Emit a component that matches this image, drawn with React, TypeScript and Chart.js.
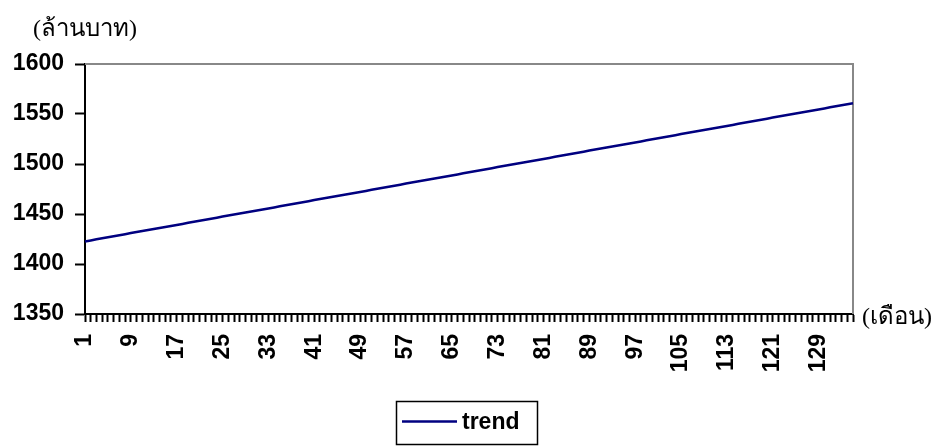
import React, { useEffect, useRef } from 'react';
import { Chart, registerables } from 'chart.js';

Chart.register(...registerables);

// Trend values (million baht) for months 1..135
const TREND: number[] = [
  1422.6, 1423.6, 1424.7, 1425.7, 1426.7, 1427.8, 1428.8, 1429.8, 1430.9, 1431.9,
  1432.9, 1433.9, 1435.0, 1436.0, 1437.0, 1438.1, 1439.1, 1440.1, 1441.2, 1442.2,
  1443.2, 1444.3, 1445.3, 1446.3, 1447.4, 1448.4, 1449.4, 1450.4, 1451.5, 1452.5,
  1453.5, 1454.6, 1455.6, 1456.6, 1457.7, 1458.7, 1459.7, 1460.8, 1461.8, 1462.8,
  1463.9, 1464.9, 1465.9, 1466.9, 1468.0, 1469.0, 1470.0, 1471.1, 1472.1, 1473.1,
  1474.2, 1475.2, 1476.2, 1477.3, 1478.3, 1479.3, 1480.4, 1481.4, 1482.4, 1483.4,
  1484.5, 1485.5, 1486.5, 1487.6, 1488.6, 1489.6, 1490.7, 1491.7, 1492.7, 1493.8,
  1494.8, 1495.8, 1496.9, 1497.9, 1498.9, 1500.0, 1501.0, 1502.0, 1503.0, 1504.1,
  1505.1, 1506.1, 1507.2, 1508.2, 1509.2, 1510.3, 1511.3, 1512.3, 1513.4, 1514.4,
  1515.4, 1516.5, 1517.5, 1518.5, 1519.5, 1520.6, 1521.6, 1522.6, 1523.7, 1524.7,
  1525.7, 1526.8, 1527.8, 1528.8, 1529.9, 1530.9, 1531.9, 1533.0, 1534.0, 1535.0,
  1536.0, 1537.1, 1538.1, 1539.1, 1540.2, 1541.2, 1542.2, 1543.3, 1544.3, 1545.3,
  1546.4, 1547.4, 1548.4, 1549.5, 1550.5, 1551.5, 1552.5, 1553.6, 1554.6, 1555.6,
  1556.7, 1557.7, 1558.7, 1559.8, 1560.8,
];

// Month categories 1..135
const MONTHS: string[] = TREND.map((_, i) => String(i + 1));

const Y_MIN = 1350;
const Y_MAX = 1600;
const Y_STEP = 50;
const LABEL_EVERY = 8;
const SERIES_NAME = 'trend';
const Y_UNIT = '(ล้านบาท)';
const X_UNIT = '(เดือน)';

const FONT = "'Liberation Sans', Arial, sans-serif";
const THAI_FONT = "serif";
const LINE_COLOR = '#000080';

const framePlugin = {
  id: 'frame',
  beforeDatasetsDraw(chart: any) {
    const { ctx, chartArea } = chart;
    ctx.save();
    ctx.strokeStyle = '#888888';
    ctx.lineWidth = 2;
    ctx.beginPath();
    ctx.moveTo(chartArea.left, chartArea.top);
    ctx.lineTo(chartArea.right, chartArea.top);
    ctx.lineTo(chartArea.right, chartArea.bottom);
    ctx.stroke();
    ctx.restore();
  },
};

const legendBoxPlugin = {
  id: 'legendBox',
  afterDraw(chart: any) {
    const { ctx } = chart;
    const ds = chart.data.datasets[0];
    ctx.save();
    ctx.strokeStyle = '#000';
    ctx.lineWidth = 1.5;
    ctx.strokeRect(396.5, 401.5, 141, 43);
    ctx.strokeStyle = ds.borderColor;
    ctx.lineWidth = 2.5;
    ctx.beginPath();
    ctx.moveTo(402, 421.5);
    ctx.lineTo(457, 421.5);
    ctx.stroke();
    ctx.fillStyle = '#000';
    ctx.font = `bold 23px ${FONT}`;
    ctx.textBaseline = 'middle';
    ctx.textAlign = 'left';
    ctx.fillText(ds.label, 462, 423);
    ctx.restore();
  },
};

export default function App() {
  const canvasRef = useRef<HTMLCanvasElement | null>(null);

  useEffect(() => {
    const canvas = canvasRef.current;
    if (!canvas) return;
    const chart = new Chart(canvas, {
      type: 'line',
      data: {
        labels: MONTHS,
        datasets: [
          {
            label: SERIES_NAME,
            data: TREND,
            borderColor: LINE_COLOR,
            backgroundColor: LINE_COLOR,
            borderWidth: 2.5,
            pointRadius: 0,
            tension: 0,
            fill: false,
          },
        ],
      },
      options: {
        responsive: false,
        animation: false,
        devicePixelRatio: 1,
        layout: { padding: { top: 64, right: 92, bottom: 74, left: 0 } },
        plugins: {
          legend: { display: false },
          tooltip: { enabled: false },
        },
        scales: {
          x: {
            type: 'category',
            offset: false,
            ticks: {
              autoSkip: false,
              maxRotation: 90,
              minRotation: 90,
              padding: 12,
              color: '#000',
              font: { family: FONT, size: 23, weight: 'bold' },
              callback: function (this: any, v: any, i: number) {
                return i % LABEL_EVERY === 0 ? this.getLabelForValue(v) : '';
              },
            },
            grid: {
              drawOnChartArea: false,
              drawTicks: true,
              tickLength: 8,
              tickColor: '#000',
              tickWidth: 2,
              offset: false,
            },
            border: { display: true, color: '#000', width: 2 },
            afterFit: (s: any) => {
              s.height = 60;
            },
          },
          y: {
            min: Y_MIN,
            max: Y_MAX,
            ticks: {
              stepSize: Y_STEP,
              padding: 11,
              color: '#000',
              font: { family: FONT, size: 23, weight: 'bold' },
              callback: (v: any) => String(v),
            },
            grid: {
              drawOnChartArea: false,
              drawTicks: true,
              tickLength: 10,
              tickColor: '#000',
              tickWidth: 2,
            },
            border: { display: true, color: '#000', width: 2 },
            afterFit: (s: any) => {
              s.width = 85;
            },
          },
        },
      } as any,
      plugins: [framePlugin, legendBoxPlugin],
    });
    return () => chart.destroy();
  }, []);

  return (
    <div style={{ position: 'absolute', left: 0, top: 0, width: 945, height: 448, background: '#fff' }}>
      <canvas ref={canvasRef} width={945} height={448} style={{ display: 'block' }} />
      <span
        style={{
          position: 'absolute',
          left: 33,
          top: 8,
          fontFamily: THAI_FONT,
          fontSize: 24,
          color: '#000',
          whiteSpace: 'nowrap',
        }}
      >
        {Y_UNIT}
      </span>
      <span
        style={{
          position: 'absolute',
          left: 862,
          top: 296,
          fontFamily: THAI_FONT,
          fontSize: 24,
          color: '#000',
          whiteSpace: 'nowrap',
        }}
      >
        {X_UNIT}
      </span>
    </div>
  );
}
